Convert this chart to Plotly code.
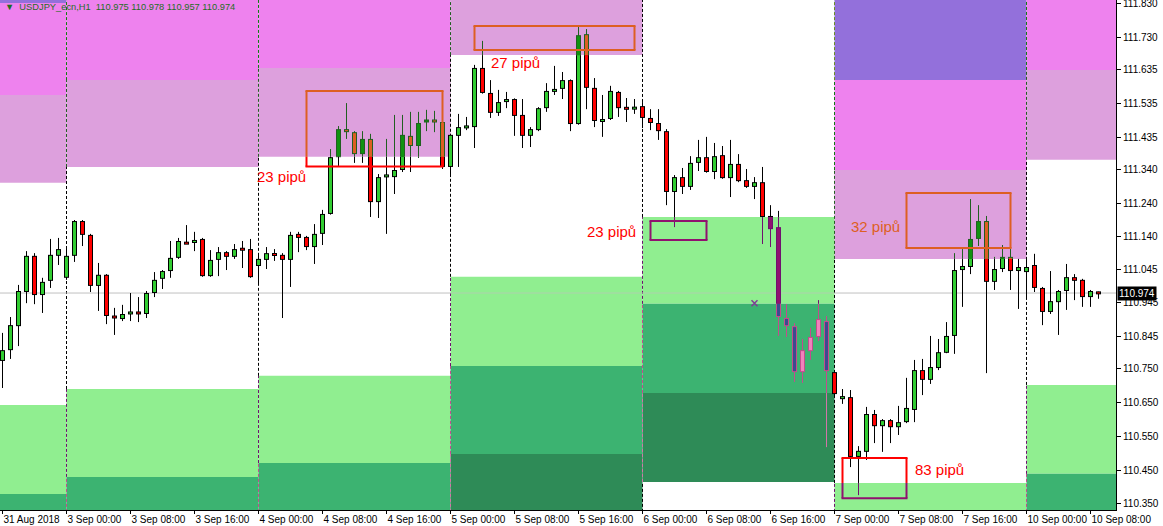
import plotly.graph_objects as go

# ---------------- data ----------------
header_text = "▼  USDJPY_ecn,H1  110.975 110.978 110.957 110.974"

tick_bars = [0, 8, 16, 24, 32, 40, 48, 56, 64, 72, 80, 88, 96, 104, 112, 120, 128, 136]
tick_labels = ["31 Aug 2018", "3 Sep 00:00", "3 Sep 08:00", "3 Sep 16:00", "4 Sep 00:00",
               "4 Sep 08:00", "4 Sep 16:00", "5 Sep 00:00", "5 Sep 08:00", "5 Sep 16:00",
               "6 Sep 00:00", "6 Sep 08:00", "6 Sep 16:00", "7 Sep 00:00", "7 Sep 08:00",
               "7 Sep 16:00", "10 Sep 00:00", "10 Sep 08:00"]

price_ticks = [111.830, 111.730, 111.635, 111.535, 111.435, 111.340, 111.240, 111.140,
               111.045, 110.945, 110.845, 110.750, 110.650, 110.550, 110.450, 110.350]

opens = [110.773, 110.805, 110.876, 110.977, 111.084, 110.968, 111.010, 111.084, 111.019, 111.084,
         111.187, 111.146, 110.995, 111.028, 110.906, 110.897, 110.912, 110.918, 110.912, 110.974,
         111.016, 111.039, 111.078, 111.122, 111.122, 111.134, 111.024, 111.072, 111.095, 111.081,
         111.104, 111.104, 111.054, 111.072, 111.092, 111.087, 111.072, 111.149, 111.140, 111.110,
         111.149, 111.208, 111.376, 111.459, 111.450, 111.385, 111.430, 111.243, 111.320, 111.317,
         111.338, 111.439, 111.409, 111.480, 111.486, 111.480, 111.347, 111.439, 111.465, 111.465,
         111.640, 111.566, 111.507, 111.539, 111.548, 111.501, 111.439, 111.456, 111.521, 111.572,
         111.578, 111.604, 111.474, 111.740, 111.581, 111.480, 111.489, 111.569, 111.521, 111.518,
         111.527, 111.492, 111.477, 111.453, 111.273, 111.317, 111.288, 111.359, 111.376, 111.332,
         111.382, 111.314, 111.356, 111.308, 111.288, 111.302, 111.202, 111.169, 110.900, 110.876,
         110.740, 110.802, 110.844, 110.891, 110.740, 110.660, 110.666, 110.489, 110.504, 110.616,
         110.580, 110.598, 110.577, 110.592, 110.628, 110.746, 110.717, 110.752, 110.797, 110.847,
         111.042, 111.051, 111.134, 111.187, 111.007, 111.045, 111.081, 111.039, 111.036, 111.057,
         110.989, 110.918, 110.947, 110.980, 111.021, 111.013, 110.962, 110.975]
highs = [110.856, 110.903, 110.998, 111.098, 111.092, 111.019, 111.134, 111.137, 111.113, 111.190,
         111.190, 111.149, 111.063, 111.030, 110.930, 110.939, 110.974, 110.962, 110.980, 111.036,
         111.042, 111.128, 111.137, 111.175, 111.155, 111.137, 111.101, 111.110, 111.098, 111.119,
         111.128, 111.134, 111.092, 111.110, 111.104, 111.092, 111.155, 111.155, 111.143, 111.178,
         111.220, 111.400, 111.468, 111.536, 111.453, 111.453, 111.445, 111.326, 111.430, 111.501,
         111.501, 111.510, 111.510, 111.516, 111.513, 111.483, 111.445, 111.504, 111.495, 111.649,
         111.720, 111.604, 111.575, 111.569, 111.550, 111.548, 111.465, 111.524, 111.595, 111.646,
         111.628, 111.606, 111.761, 111.755, 111.610, 111.560, 111.587, 111.572, 111.551, 111.548,
         111.539, 111.518, 111.518, 111.459, 111.323, 111.344, 111.379, 111.427, 111.436, 111.418,
         111.409, 111.427, 111.385, 111.341, 111.317, 111.347, 111.234, 111.217, 110.941, 110.885,
         110.838, 110.871, 110.953, 110.906, 110.746, 110.690, 110.687, 110.521, 110.637, 110.628,
         110.601, 110.601, 110.640, 110.723, 110.776, 110.779, 110.847, 110.838, 110.888, 111.092,
         111.104, 111.252, 111.234, 111.202, 111.081, 111.116, 111.104, 111.075, 111.075, 111.090,
         110.992, 111.039, 110.983, 111.060, 111.030, 111.016, 110.983, 110.978]
lows = [110.693, 110.779, 110.817, 110.944, 110.941, 110.915, 110.989, 111.057, 111.013, 111.066,
        111.113, 110.977, 110.921, 110.882, 110.850, 110.891, 110.891, 110.888, 110.900, 110.962,
        110.986, 111.019, 111.075, 111.119, 111.098, 111.022, 111.022, 111.024, 111.042, 111.075,
        111.048, 111.019, 111.001, 111.045, 111.069, 110.900, 110.992, 111.095, 111.101, 111.060,
        111.116, 111.206, 111.350, 111.430, 111.359, 111.359, 111.199, 111.196, 111.149, 111.267,
        111.332, 111.332, 111.374, 111.453, 111.450, 111.341, 111.317, 111.347, 111.456, 111.403,
        111.564, 111.492, 111.498, 111.521, 111.439, 111.403, 111.406, 111.453, 111.510, 111.560,
        111.548, 111.453, 111.472, 111.518, 111.465, 111.436, 111.486, 111.495, 111.480, 111.504,
        111.462, 111.456, 111.427, 111.234, 111.169, 111.267, 111.279, 111.335, 111.330, 111.311,
        111.312, 111.258, 111.302, 111.285, 111.252, 111.119, 111.110, 110.847, 110.844, 110.711,
        110.708, 110.776, 110.832, 110.518, 110.672, 110.646, 110.459, 110.376, 110.480, 110.530,
        110.504, 110.530, 110.554, 110.589, 110.592, 110.672, 110.705, 110.746, 110.796, 110.794,
        110.933, 111.030, 111.113, 110.737, 110.983, 111.036, 110.983, 110.927, 110.960, 110.977,
        110.879, 110.912, 110.850, 110.924, 110.953, 110.933, 110.933, 110.957]
closes = [110.805, 110.879, 110.980, 111.084, 110.968, 111.007, 111.087, 111.104, 111.084, 111.187,
          111.146, 110.995, 111.028, 110.906, 110.900, 110.912, 110.918, 110.912, 110.974, 111.013,
          111.039, 111.078, 111.128, 111.121, 111.131, 111.024, 111.072, 111.095, 111.081, 111.104,
          111.103, 111.021, 111.075, 111.092, 111.084, 111.072, 111.146, 111.137, 111.110, 111.149,
          111.208, 111.376, 111.459, 111.450, 111.385, 111.430, 111.243, 111.317, 111.321, 111.338,
          111.442, 111.409, 111.477, 111.486, 111.480, 111.347, 111.442, 111.465, 111.466, 111.640,
          111.566, 111.507, 111.539, 111.548, 111.498, 111.439, 111.459, 111.521, 111.572, 111.575,
          111.604, 111.474, 111.737, 111.581, 111.483, 111.489, 111.572, 111.521, 111.520, 111.524,
          111.492, 111.477, 111.453, 111.273, 111.317, 111.288, 111.359, 111.376, 111.332, 111.379,
          111.314, 111.356, 111.305, 111.288, 111.302, 111.199, 111.163, 110.903, 110.876, 110.740,
          110.805, 110.844, 110.897, 110.743, 110.675, 110.669, 110.489, 110.507, 110.616, 110.580,
          110.598, 110.577, 110.592, 110.634, 110.746, 110.717, 110.755, 110.799, 110.847, 111.042,
          111.054, 111.134, 111.187, 111.007, 111.045, 111.081, 111.039, 111.051, 111.051, 110.989,
          110.918, 110.950, 110.980, 111.021, 111.010, 110.962, 110.980, 110.974]
last_price = 110.974

# first bar index of each trading day (last value = end of 10 Sep)
day_first_bar = [-16, 8, 32, 56, 80, 104, 128, 152]

# colour bands of each day: (upper price, lower price, colour)
zones_31aug = [(112.300, 111.832, "mediumpurple"), (111.832, 111.560, "violet"), (111.560, 111.300, "plum"),
               (110.643, 110.379, "lightgreen"), (110.379, 110.000, "mediumseagreen")]
zones_3sep = [(112.300, 111.604, "violet"), (111.604, 111.347, "plum"),
              (110.690, 110.430, "lightgreen"), (110.430, 110.000, "mediumseagreen")]
zones_4sep = [(112.300, 111.640, "violet"), (111.640, 111.377, "plum"),
              (110.729, 110.471, "lightgreen"), (110.471, 110.000, "mediumseagreen")]
zones_5sep = [(112.300, 111.678, "plum"), (111.022, 110.758, "lightgreen"),
              (110.758, 110.498, "mediumseagreen"), (110.498, 110.000, "seagreen")]
zones_6sep = [(111.199, 110.942, "lightgreen"), (110.942, 110.678, "mediumseagreen"),
              (110.678, 110.415, "seagreen")]
zones_7sep = [(112.300, 111.604, "mediumpurple"), (111.604, 111.338, "violet"), (111.338, 111.075, "plum"),
              (110.412, 110.000, "lightgreen")]
zones_10sep = [(112.300, 111.634, "violet"), (111.634, 111.368, "plum"),
               (110.702, 110.439, "lightgreen"), (110.439, 110.000, "mediumseagreen")]
zones_by_day = [zones_31aug, zones_3sep, zones_4sep, zones_5sep, zones_6sep, zones_7sep, zones_10sep]

# range boxes
box_bar_start = [38, 59, 81, 113, 105]
box_bar_end = [55, 79, 88, 126, 113]
box_top = [111.572, 111.764, 111.187, 111.270, 110.486]
box_bottom = [111.348, 111.693, 111.131, 111.107, 110.367]

pip_labels = ["23 pipů", "27 pipů", "23 pipů", "32 pipů", "83 pipů"]
pip_label_bar = [31.6, 60.75, 72.75, 105.75, 113.75]
pip_label_price = [111.320, 111.656, 111.157, 111.172, 110.453]

cross_bar = 94
cross_price = 110.944

# ---------------- styling / geometry ----------------
ZONE_RGB = {"mediumpurple": (147, 112, 219), "violet": (238, 130, 238), "plum": (221, 160, 221),
            "lightgreen": (144, 238, 144), "mediumseagreen": (60, 179, 113), "seagreen": (46, 139, 87)}
BLACK = (0, 0, 0)
UP = (50, 205, 50)
DOWN = (255, 0, 0)
GRAY = (192, 192, 192)
BOX_MASK = (0, 255, 255)

W, H = 1163, 526
M_L, M_R, M_T, M_B = 0, 47, 0, 16
PLOT_W, PLOT_H = W - M_L - M_R, H - M_T - M_B
Y0, Y1 = 110.332, 111.841
BAR_PX = 8
X0 = -0.3125
X1 = X0 + PLOT_W / BAR_PX
PX = (Y1 - Y0) / PLOT_H


def xor(c, m):
    return tuple(a ^ b for a, b in zip(c, m))


def rgb(c):
    return "rgb(%d,%d,%d)" % c


def day_of(x):
    for d in range(len(day_first_bar) - 1):
        if day_first_bar[d] <= x < day_first_bar[d + 1]:
            return d
    return len(day_first_bar) - 2


def zone_at(d, p):
    for top, bot, name in zones_by_day[d]:
        if bot <= p < top:
            return name
    return None


def mask(name):
    return (0, 0, 0) if name is None else tuple(255 - v for v in ZONE_RGB[name])


def bgc(name):
    return (255, 255, 255) if name is None else ZONE_RGB[name]


def split(d, a, b):
    edges = sorted({a, b} | {e for z in zones_by_day[d] for e in z[:2] if a < e < b})
    return [(lo, hi, zone_at(d, (lo + hi) / 2)) for lo, hi in zip(edges[:-1], edges[1:])]


groups = {}


def add_seg(key, xs, ys):
    gx, gy = groups.setdefault(key, ([], []))
    gx.extend(list(xs) + [None])
    gy.extend(list(ys) + [None])


fig = go.Figure()

# background zones
shapes = []
for d, zones in enumerate(zones_by_day):
    for top, bot, name in zones:
        shapes.append(dict(type="rect", layer="below", xref="x", yref="y",
                           x0=day_first_bar[d], x1=day_first_bar[d + 1], y0=bot, y1=top,
                           fillcolor=rgb(ZONE_RGB[name]), line=dict(width=0)))

# day separators
for d in range(1, len(zones_by_day)):
    x = day_first_bar[d]
    for lo, hi, z in split(d, Y0 - 0.05, Y1 + 0.05):
        add_seg((0, 1, rgb(xor(BLACK, mask(z))), "3px,2px"), [x, x], [lo, hi])

# bid line
for d in range(len(zones_by_day)):
    xa, xb = max(day_first_bar[d], X0 - 1), min(day_first_bar[d + 1], X1 + 1)
    if xa < xb:
        add_seg((1, 1, rgb(xor(GRAY, mask(zone_at(d, last_price)))), "solid"), [xa, xb], [last_price, last_price])

# candles
for i, (o, h, l, c) in enumerate(zip(opens, highs, lows, closes)):
    d = day_of(i)
    for lo, hi, z in split(d, l, h):
        add_seg((2, 1, rgb(xor(BLACK, mask(z))), "solid"), [i, i], [lo, hi])
    top, bot = max(o, c), min(o, c)
    mid = (top + bot) / 2
    if o == c:
        top, bot = mid + PX, mid - PX
    elif top - bot < 3 * PX:
        top, bot = mid + 1.5 * PX, mid - 1.5 * PX
    fill = UP if c >= o else DOWN
    for lo, hi, z in split(d, bot, top):
        add_seg((3, 5, rgb(xor(BLACK, mask(z))), "solid"), [i, i], [lo, hi])
    if o != c and top - bot > 2 * PX:
        for lo, hi, z in split(d, bot + PX, top - PX):
            add_seg((4, 3, rgb(xor(fill, mask(z))), "solid"), [i, i], [lo, hi])

# boxes
ext = 1.0 / BAR_PX
for xa, xb, yt, yb in zip(box_bar_start, box_bar_end, box_top, box_bottom):
    d = day_of(xa)
    for y in (yt, yb):
        add_seg((5, 2, rgb(xor(bgc(zone_at(d, y)), BOX_MASK)), "solid"), [xa - ext, xb + ext], [y, y])
    for x in (xa, xb):
        for lo, hi, z in split(d, yb, yt):
            add_seg((5, 2, rgb(xor(bgc(z), BOX_MASK)), "solid"), [x, x], [lo, hi])

for key in sorted(groups, key=lambda k: k[0]):
    layer, width, color, dash = key
    xs, ys = groups[key]
    fig.add_trace(go.Scatter(x=xs, y=ys, mode="lines", hoverinfo="skip",
                             line=dict(color=color, width=width, dash=dash)))

fig.add_trace(go.Scatter(x=[cross_bar], y=[cross_price], mode="markers", hoverinfo="skip",
                         marker=dict(symbol="x-thin", size=6, line=dict(width=1.5, color="rgb(128,60,150)"))))

annotations = []
for txt, xb, yp in zip(pip_labels, pip_label_bar, pip_label_price):
    d = day_of(xb)
    col = xor(bgc(zone_at(d, yp)), BOX_MASK)
    annotations.append(dict(x=xb, y=yp, xref="x", yref="y", text=txt, showarrow=False,
                            xanchor="left", yanchor="middle",
                            font=dict(family="Liberation Sans", size=15, color=rgb(col))))

annotations.append(dict(x=0.003, y=1.0, xref="paper", yref="paper", text=header_text, showarrow=False,
                        xanchor="left", yanchor="top",
                        font=dict(family="Liberation Sans", size=9.3, color="rgb(30,110,30)")))
annotations.append(dict(x=1.0, y=last_price, xref="paper", yref="y", text="110.974", showarrow=False,
                        xanchor="left", yanchor="middle", xshift=1, bgcolor="black", borderpad=1,
                        font=dict(family="Liberation Sans", size=10, color="white")))

fig.update_layout(
    template="none",
    width=W, height=H,
    margin=dict(l=M_L, r=M_R, t=M_T, b=M_B, pad=0),
    plot_bgcolor="white", paper_bgcolor="white",
    showlegend=False,
    font=dict(family="Liberation Sans", size=10, color="black"),
    shapes=shapes,
    annotations=annotations,
    xaxis=dict(range=[X0, X1], tickmode="array", tickvals=tick_bars, ticktext=tick_labels,
               ticks="outside", ticklen=3, tickcolor="black", ticklabelposition="outside right",
               tickangle=0, ticklabeloverflow="allow",
               showgrid=False, zeroline=False, showline=True, linecolor="black", linewidth=1,
               automargin=False, tickfont=dict(family="Liberation Sans", size=10, color="black")),
    yaxis=dict(range=[Y0, Y1], side="right", tickmode="array", tickvals=price_ticks,
               ticktext=["%.3f" % v for v in price_ticks],
               ticks="outside", ticklen=4, tickcolor="black", ticklabeloverflow="allow",
               showgrid=False, zeroline=False, showline=True, linecolor="black", linewidth=1,
               mirror=True, automargin=False,
               tickfont=dict(family="Liberation Sans", size=10, color="black")),
)

fig.write_html("out.html", config={"displayModeBar": False},
               post_script="document.body.style.margin='0';document.body.style.overflow='hidden';")
